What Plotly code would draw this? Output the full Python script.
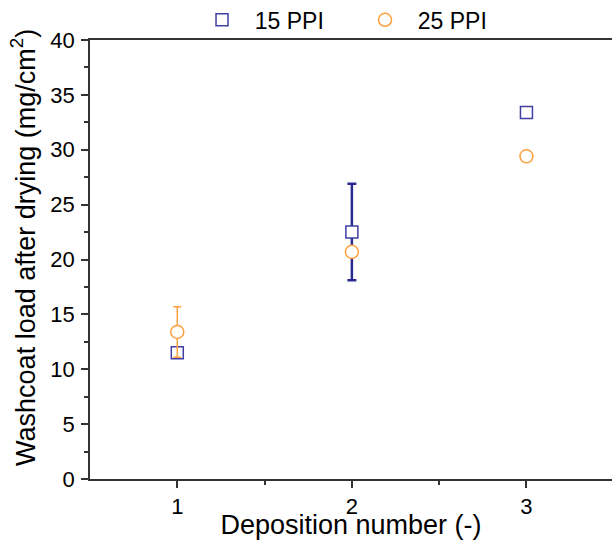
import plotly.graph_objects as go

deposition = [1, 2, 3]
ppi15_load = [11.5, 22.5, 33.4]
ppi15_err = [0.2, 4.4, 0.0]
ppi25_load = [13.4, 20.7, 29.4]
ppi25_err = [2.3, 0.0, 0.0]

blue = "#4040a4"
blue_err = "#2a2a90"
orange = "#ffa040"
nb = "\u00a0\u00a0"

fig = go.Figure()
fig.add_trace(go.Scatter(
    x=deposition, y=ppi15_load, mode="markers", name=nb + "15 PPI",
    marker=dict(symbol="square", size=12, color="white", line=dict(color=blue, width=1.5)),
    error_y=dict(type="data", array=ppi15_err, visible=True, color=blue_err, thickness=2.5, width=4.5),
))
fig.add_trace(go.Scatter(
    x=deposition, y=ppi25_load, mode="markers", name=nb + "25 PPI",
    marker=dict(symbol="circle", size=13, color="white", line=dict(color=orange, width=1.5)),
    error_y=dict(type="data", array=ppi25_err, visible=True, color=orange, thickness=1.5, width=4),
))

font = "Liberation Sans, Arial, sans-serif"
fig.update_layout(
    width=612, height=540,
    margin=dict(l=90, r=0, t=40, b=61, autoexpand=False),
    paper_bgcolor="white", plot_bgcolor="white",
    font=dict(family=font, size=22, color="black"),
    showlegend=True,
    legend=dict(orientation="h", x=0.2146, y=1.046, xanchor="left", yanchor="middle",
                font=dict(size=23), entrywidth=118, entrywidthmode="pixels",
                bgcolor="rgba(0,0,0,0)"),
    annotations=[dict(
        text="Washcoat load after drying (mg/cm<sup>2</sup>)", textangle=-90,
        xref="paper", yref="paper", x=-0.127, y=0.528, xanchor="center", yanchor="middle",
        showarrow=False, font=dict(size=27),
    )],
)
fig.update_xaxes(
    range=[0.5, 3.49], tickvals=[1, 2, 3], ticks="outside", ticklen=7, tickwidth=1.5,
    tickcolor="#333", showline=True, linecolor="#333", linewidth=1.5, mirror=True,
    showgrid=False, zeroline=False, automargin=False,
    minor=dict(tickvals=[1.5, 2.5], ticks="outside", ticklen=4, tickwidth=1.5, tickcolor="#333"),
    tickfont=dict(size=22),
    title=dict(text="Deposition number (-)", font=dict(size=27), standoff=0),
)
fig.update_yaxes(
    range=[0, 40], tickvals=[0, 5, 10, 15, 20, 25, 30, 35, 40], ticks="outside", ticklen=7,
    tickwidth=1.5, tickcolor="#333", showline=True, linecolor="#333", linewidth=1.5,
    showgrid=False, zeroline=False, automargin=False, ticklabelstandoff=2,
    minor=dict(dtick=2.5, ticks="outside", ticklen=4, tickwidth=1.5, tickcolor="#333"),
    tickfont=dict(size=22),
)
fig.write_html("out.html", config={"displayModeBar": False},
               post_script="document.body.style.margin='0';document.body.style.overflow='hidden';")
